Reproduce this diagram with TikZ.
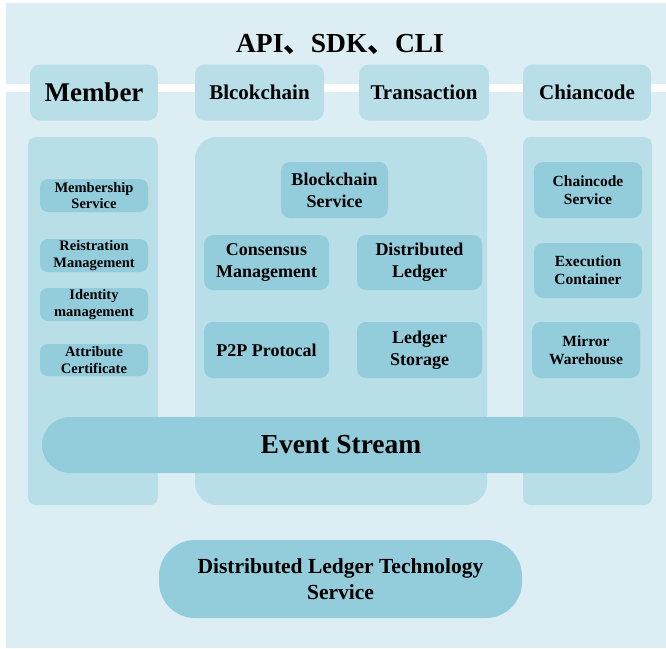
\documentclass[tikz,border=0pt]{standalone}
\usepackage{fontspec}
\setmainfont{Liberation Serif}
\newfontfamily\cjk{Noto Sans CJK SC}
\definecolor{cFondo}{HTML}{DCEEF4}
\definecolor{cCol}{HTML}{B8DEE8}
\definecolor{cMod}{HTML}{93CDDC}
\tikzset{
    x=1pt, y=-1pt,
    fondo/.style={fill=cFondo, draw=none},
    col/.style={fill=cCol, draw=none, rounded corners=8pt, inner sep=0pt},
    cab/.style={fill=cCol, draw=none, rounded corners=10pt, inner sep=0pt,
                minimum width=129pt, minimum height=56pt,
                font=\fontsize{21pt}{25pt}\selectfont\bfseries},
    modS/.style={fill=cMod, draw=none, rounded corners=8pt, inner sep=0pt,
                 align=center, minimum width=108pt, minimum height=33pt,
                 font=\fontsize{14.5pt}{16.5pt}\selectfont\bfseries},
    modM/.style={fill=cMod, draw=none, rounded corners=9pt, inner sep=0pt,
                 align=center, minimum width=125pt, minimum height=56pt,
                 font=\fontsize{18pt}{22pt}\selectfont\bfseries},
    modR/.style={modM, minimum width=108pt,
                 font=\fontsize{15.5pt}{18pt}\selectfont\bfseries},
    pill/.style={fill=cMod, draw=none, inner sep=0pt, align=center,
                 font=\fontsize{21.5pt}{26pt}\selectfont\bfseries},
}
\begin{document}
\begin{tikzpicture}
    \useasboundingbox (0,0) rectangle (666,648);
    \fill[white] (0,0) rectangle (666,648);
    \draw[fondo] (6,3) rectangle (666,84);
    \draw[fondo] (6,92) rectangle (666,648);

    \node[font=\fontsize{27.5pt}{32pt}\selectfont\bfseries] (api) at (340,44)
        {API{\cjk 、}SDK{\cjk 、}CLI};

    % cabeceras
    \node[cab, minimum width=128pt, font=\fontsize{27pt}{32pt}\selectfont\bfseries]
        (member) at (94,92.5) {Member};
    \node[cab] (blcok) at (259.5,92.5) {Blcokchain};
    \node[cab, minimum width=130pt] (trans) at (424,92.5) {Transaction};
    \node[cab, minimum width=128pt] (chian) at (587,92.5) {Chiancode};

    % columnas
    \node[col, minimum width=130pt, minimum height=368pt] (colL) at (93,321) {};
    \node[col, rounded corners=22pt, minimum width=292pt, minimum height=368pt]
        (colM) at (341,321) {};
    \node[col, minimum width=129pt, minimum height=368pt] (colR) at (587.5,321) {};

    % miembro
    \node[modS] (memb) at (94,195.5) {Membership\\Service};
    \node[modS] (reis) at (94,255.5) {Reistration\\Management};
    \node[modS] (iden) at (94,304.5) {Identity\\management};
    \node[modS, minimum height=32pt] (attr) at (94,360) {Attribute\\Certificate};

    % cadena de bloques
    \node[modM, minimum width=107pt] (bserv) at (334.5,190) {Blockchain\\Service};
    \node[modM, minimum height=55pt] (cons) at (266.5,262.5) {Consensus\\Management};
    \node[modM, minimum height=55pt] (dled) at (419.5,262.5) {Distributed\\Ledger};
    \node[modM] (p2p) at (266.5,350) {P2P Protocal};
    \node[modM] (lsto) at (419.5,350) {Ledger\\Storage};

    % chaincode
    \node[modR] (cserv) at (588,190) {Chaincode\\Service};
    \node[modR, minimum height=55pt] (exec) at (588,270.5) {Execution\\Container};
    \node[modR] (mirr) at (586,350) {Mirror\\Warehouse};

    \node[pill, rounded corners=28pt, minimum width=598pt, minimum height=56pt,
          font=\fontsize{27.5pt}{30pt}\selectfont\bfseries]
        (event) at (341,445) {Event Stream};
    \node[pill, rounded corners=36pt, minimum width=363pt, minimum height=78pt]
        (dlt) at (340.5,579) {Distributed Ledger Technology\\Service};
\end{tikzpicture}
\end{document}
